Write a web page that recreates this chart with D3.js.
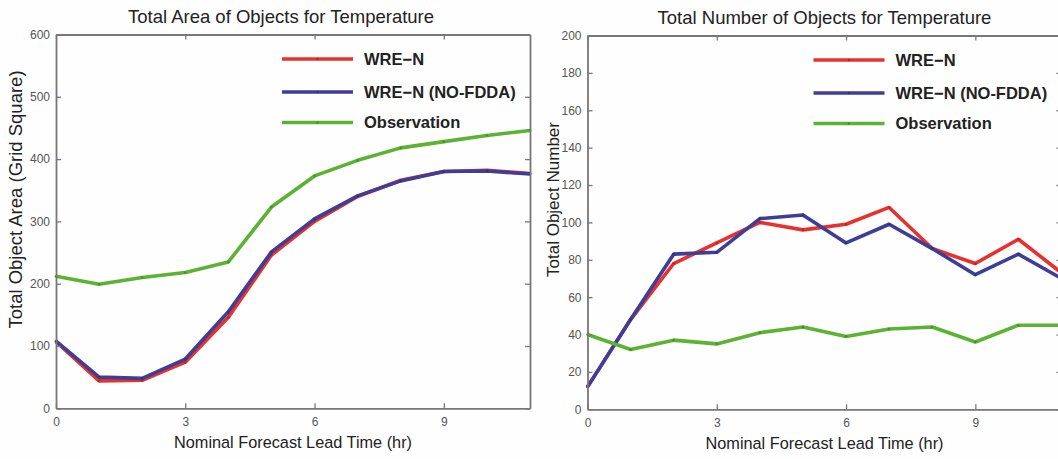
<!DOCTYPE html>
<html>
<head>
<meta charset="utf-8">
<script src="https://cdn.jsdelivr.net/npm/d3@7"></script>
<style>
  body { margin: 0; background: #fefefe; }
  text { font-family: "Liberation Sans", Arial, sans-serif; }
</style>
</head>
<body>
<script>
// lead time in hours (x values of every series)
var leadTime = [0, 1, 2, 3, 4, 5, 6, 7, 8, 9, 10, 11];

// left panel: total object area (grid squares)
var areaWrf       = [107, 44, 45, 74, 146, 246, 300, 340, 366, 380, 382, 377];
var areaWrfNoFdda = [108, 50, 48, 79, 155, 251, 304, 341, 365, 380, 381, 376];
var areaObs       = [212, 199, 210, 218, 235, 323, 373, 398, 418, 428, 438, 446];

// right panel: total object number
var countWrf       = [12, 48, 78, 89, 100, 96, 99, 108, 86, 78, 91, 73];
var countWrfNoFdda = [12, 48, 83, 84, 102, 104, 89, 99, 86, 72, 83, 70];
var countObs       = [40, 32, 37, 35, 41, 44, 39, 43, 44, 36, 45, 45];

var seriesNames = ["WRE\u2212N", "WRE\u2212N (NO-FDDA)", "Observation"];
var seriesColors = ["#e8302c", "#3e3e96", "#5cb232"];

var xTicks = [0, 3, 6, 9];
var areaTicks = [0, 100, 200, 300, 400, 500, 600];
var countTicks = [0, 20, 40, 60, 80, 100, 120, 140, 160, 180, 200];

var svg = d3.select("body").append("svg")
    .attr("width", 1058)
    .attr("height", 459)
    .style("background-color", "#fefefe");

// draws one matlab style panel with box, inward ticks and legend
function drawPanel(opt) {
    var w = opt.width, h = opt.height;
    var g = svg.append("g").attr("transform", "translate(" + opt.left + "," + opt.top + ")");

    var x = d3.scaleLinear().domain([0, 11]).range([0, w]);
    var y = d3.scaleLinear().domain(opt.yDomain).range([h, 0]);

    var clipId = "clip" + opt.id;
    g.append("clipPath").attr("id", clipId)
      .append("rect").attr("x", -2).attr("y", -2).attr("width", w + 4).attr("height", h + 4);

    // lines
    var line = d3.line()
        .x(function(d, i){ return x(leadTime[i]); })
        .y(function(d){ return y(d); });

    var lines = g.append("g").attr("clip-path", "url(#" + clipId + ")");
    opt.series.forEach(function(s, k) {
        lines.append("path")
          .attr("d", line(s))
          .attr("fill", "none")
          .attr("stroke", seriesColors[k])
          .attr("stroke-width", 3.6)
          .attr("stroke-linejoin", "round");
        lines.selectAll(".pt" + k)
          .data(s).enter().append("circle")
          .attr("cx", function(d, i){ return x(leadTime[i]); })
          .attr("cy", function(d){ return y(d); })
          .attr("r", 1.3)
          .attr("fill", d3.color(seriesColors[k]).darker(0.6));
    });

    // axes, ticks point inwards like matlab
    var axisColor = "#777";
    var bottom = g.append("g").attr("transform", "translate(0," + h + ")")
        .call(d3.axisBottom(x).tickValues(xTicks).tickSizeInner(-5).tickSizeOuter(0).tickPadding(9));
    var left = g.append("g")
        .call(d3.axisLeft(y).tickValues(opt.yTicks).tickSizeInner(-5).tickSizeOuter(0).tickPadding(6));
    var top = g.append("g")
        .call(d3.axisTop(x).tickValues(xTicks).tickSizeInner(-5).tickSizeOuter(0).tickFormat(""));
    var right = g.append("g").attr("transform", "translate(" + w + ",0)")
        .call(d3.axisRight(y).tickValues(opt.yTicks).tickSizeInner(-5).tickSizeOuter(0).tickFormat(""));

    [bottom, left, top, right].forEach(function(a) {
        a.select(".domain").attr("stroke", axisColor).attr("stroke-width", 1.8);
        a.selectAll(".tick line").attr("stroke", axisColor).attr("stroke-width", 1.3);
        a.selectAll(".tick text").attr("fill", "#555").style("font-size", "12px");
    });

    // titles
    g.append("text")
      .attr("x", w / 2 + opt.titleDx).attr("y", -12)
      .attr("text-anchor", "middle")
      .attr("fill", "#222")
      .style("font-size", "18.5px")
      .text(opt.title);

    g.append("text")
      .attr("x", w / 2).attr("y", h + 40)
      .attr("text-anchor", "middle")
      .attr("fill", "#222")
      .style("font-size", "16.3px")
      .text("Nominal Forecast Lead Time (hr)");

    g.append("text")
      .attr("transform", "translate(" + opt.yLabelX + "," + opt.yLabelY + ") rotate(-90)")
      .attr("text-anchor", "middle")
      .attr("fill", "#222")
      .style("font-size", opt.yLabelSize)
      .text(opt.yLabel);

    // legend
    var legend = g.append("g").attr("transform", "translate(" + opt.legendX + ",24.5)");
    seriesNames.forEach(function(name, k) {
        var ly = [0, 33, 63.5][k];
        legend.append("line")
          .attr("x1", 0).attr("x2", 71)
          .attr("y1", ly).attr("y2", ly)
          .attr("stroke", seriesColors[k])
          .attr("stroke-width", 3.6);
        legend.append("circle")
          .attr("cx", 35.5).attr("cy", ly).attr("r", 1.3)
          .attr("fill", d3.color(seriesColors[k]).darker(0.6));
        legend.append("text")
          .attr("x", 82).attr("y", ly + 5.5)
          .attr("fill", "#222")
          .style("font-size", "16.5px")
          .style("font-weight", "bold")
          .text(name);
    });
}

drawPanel({
    id: "area", left: 56, top: 34.5, width: 474, height: 373.8,
    yDomain: [0, 600], yTicks: areaTicks,
    series: [areaWrf, areaWrfNoFdda, areaObs],
    title: "Total Area of Objects for Temperature", titleDx: -12,
    yLabel: "Total Object Area (Grid Square)", yLabelX: -34, yLabelY: 165, yLabelSize: "18.5px",
    legendX: 226
});

drawPanel({
    id: "count", left: 587.5, top: 35.5, width: 474, height: 373.8,
    yDomain: [0, 200], yTicks: countTicks,
    series: [countWrf, countWrfNoFdda, countObs],
    title: "Total Number of Objects for Temperature", titleDx: 0,
    yLabel: "Total Object Number", yLabelX: -29, yLabelY: 164, yLabelSize: "17px",
    legendX: 226
});
</script>
</body>
</html>
